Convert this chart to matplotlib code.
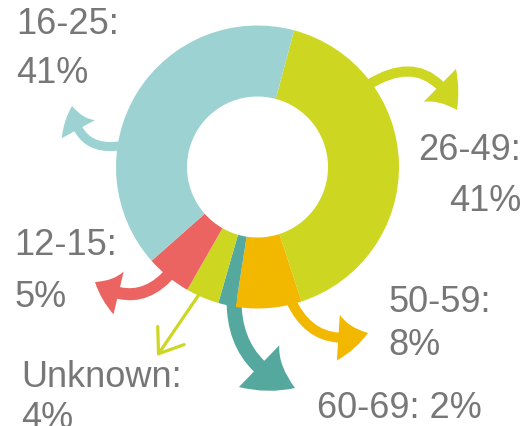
import matplotlib
matplotlib.use("Agg")
import matplotlib.pyplot as plt
from matplotlib.patches import FancyArrowPatch

# ---- data ----
categories = ["26-49", "50-59", "60-69", "Unknown", "12-15", "16-25"]
shares = [40.8, 7.5, 2.0, 3.8, 5.2, 40.7]
pct_labels = ["41%", "8%", "2%", "4%", "5%", "41%"]
colors = ["#cdd722", "#f2b800", "#55a89e", "#cdd722", "#ec6461", "#9dd2d2"]

W, H = 528, 427
fig = plt.figure(figsize=(W / 100, H / 100), dpi=100)
ax = fig.add_axes([0, 0, 1, 1])


def Y(y):
    return H - y


cx, cy, R, ring = 257.5, 168, 141.5, 71
ax.pie(shares, colors=colors, startangle=75, counterclock=False,
       radius=R, center=(cx, Y(cy)),
       wedgeprops=dict(width=ring, linewidth=0, zorder=3))
ax.set_xlim(0, W)
ax.set_ylim(0, H)
ax.set_aspect("equal")
ax.axis("off")

k = 100 / 72.0


def arrow(p0, p1, rad, color, tail, hw, hl):
    a = FancyArrowPatch(posA=(p0[0], Y(p0[1])), posB=(p1[0], Y(p1[1])),
                        connectionstyle=f"arc3,rad={rad}",
                        arrowstyle=f"simple,head_length={hl / k},head_width={hw / k},tail_width={tail / k}",
                        color=color, lw=0, shrinkA=0, shrinkB=0,
                        mutation_scale=1, zorder=2)
    ax.add_patch(a)


# arrows (layout)
arrow((125, 146), (72, 107), -0.55, colors[5], 9, 38, 24)      # 16-25
arrow((368, 86), (457, 111), -0.55, colors[0], 10, 46, 30)     # 26-49
arrow((172, 272), (95, 283), -0.45, colors[4], 12, 44, 26)     # 12-15
arrow((290, 300), (368, 334), 0.45, colors[1], 10, 46, 30)     # 50-59
arrow((234, 300), (295, 389), 0.35, colors[2], 15, 58, 42)     # 60-69
u = FancyArrowPatch(posA=(200, Y(294)), posB=(157, Y(357)),
                    arrowstyle=f"->,head_length={22 / k},head_width={16 / k}",
                    color=colors[3], lw=2.3, shrinkA=0, shrinkB=0,
                    mutation_scale=1, zorder=2)
ax.add_patch(u)

# labels
tc = "#777777"
fs = 26
fam = ["Liberation Sans", "DejaVu Sans"]


def txt(x, y, s, ha="left"):
    ax.text(x, Y(y), s, fontsize=fs, color=tc, family=fam, ha=ha, va="baseline")


txt(16, 34, categories[5] + ":")
txt(16, 83, pct_labels[5])
txt(521, 160, categories[0] + ":", ha="right")
txt(521, 211, pct_labels[0], ha="right")
txt(14, 255, categories[4] + ":")
txt(14, 307, pct_labels[4])
txt(388, 312, categories[1] + ":")
txt(388, 355, pct_labels[1])
txt(21, 387, categories[3] + ":")
txt(21, 428, pct_labels[3])
txt(317, 418, categories[2] + ": " + pct_labels[2])

fig.savefig("out.png", dpi=100)
